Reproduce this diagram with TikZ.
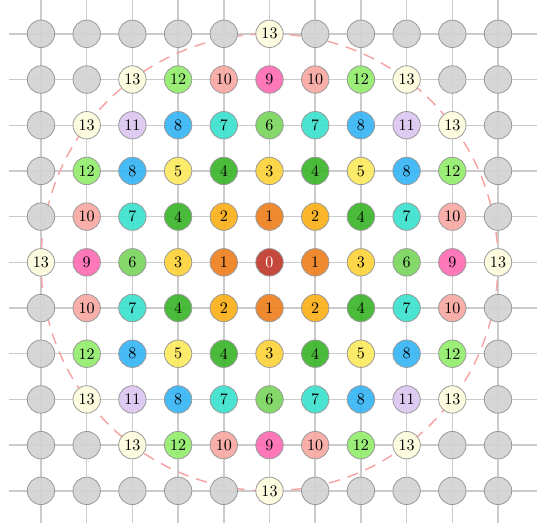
\documentclass[tikz,border=0pt]{standalone}
\usetikzlibrary{calc}
\definecolor{col0}{HTML}{C0392B}
\definecolor{col1}{HTML}{EF8020}
\definecolor{col2}{HTML}{FBB01A}
\definecolor{col3}{HTML}{FDD43A}
\definecolor{col4}{HTML}{3BB52A}
\definecolor{col5}{HTML}{FDEA60}
\definecolor{col6}{HTML}{7AD65D}
\definecolor{col7}{HTML}{3CE2CE}
\definecolor{col8}{HTML}{36B5F5}
\definecolor{col9}{HTML}{FF6CB4}
\definecolor{col10}{HTML}{F9A8A3}
\definecolor{col11}{HTML}{DCC7F1}
\definecolor{col12}{HTML}{93EE6C}
\definecolor{col13}{HTML}{FDFCDD}
\definecolor{colg}{HTML}{D3D3D3}
\definecolor{gridc}{HTML}{CBCBCB}
\definecolor{ringc}{HTML}{F6A3A3}
\newcommand\drank[1]{\ifcase#1 0\or 1\or 2\or -1\or 3\or 4\or -1\or -1\or 5\or 6\or 7\or -1\or -1\or 8\or -1\or -1\or 9\or 10\or 11\or -1\or 12\or -1\or -1\or -1\or -1\or 13\else -1\fi}
\tikzset{
  gridline/.style={draw=gridc, line width=0.9pt},
  ring/.style={draw=ringc, line width=0.9pt, dash pattern=on 7pt off 5pt},
  cell/.style={circle, draw=gray!80, line width=0.5pt, minimum size=0.6cm, inner sep=0pt, fill opacity=0.92, text opacity=1, font=\normalsize},
}
\begin{document}
\begin{tikzpicture}
\useasboundingbox (-5.897,-5.836) rectangle (5.875,5.74);
% grid
\foreach \i in {-5,...,5} {
  \coordinate (L\i) at (-5.69,\i);
  \coordinate (R\i) at (5.85,\i);
  \coordinate (B\i) at (\i,-5.7);
  \coordinate (T\i) at (\i,5.74);
  \draw[gridline] (L\i) -- (R\i);
  \draw[gridline] (B\i) -- (T\i);
}
% ring
\coordinate (ctr) at (0,0);
\draw[ring] (ctr) circle (5);
% nodes
\foreach \x in {-5,...,5} {
  \foreach \y in {-5,...,5} {
    \pgfmathtruncatemacro\dd{\x*\x+\y*\y}
    \edef\k{\drank{\dd}}
    \ifnum\k<0
      \node[cell, fill=colg] (n\x_\y) at (\x,\y) {};
    \else
      \ifnum\k=0
        \node[cell, fill=col0, text=white] (n\x_\y) at (\x,\y) {0};
      \else
        \node[cell, fill=col\k] (n\x_\y) at (\x,\y) {\k};
      \fi
    \fi
  }
}
\end{tikzpicture}
\end{document}
